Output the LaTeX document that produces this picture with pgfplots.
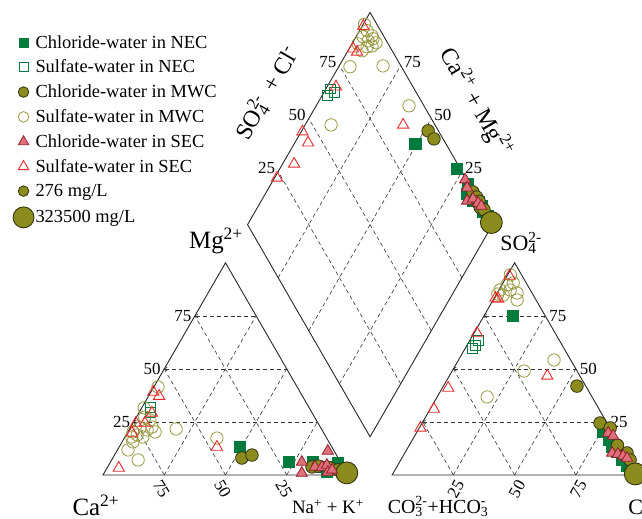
\documentclass[border=0pt]{standalone}
\usepackage{fontspec}
\setmainfont{Liberation Serif}
\usepackage{pgfplots}
\usepackage{pgfplotstable}
\usetikzlibrary{arrows.meta}
\pgfplotsset{compat=1.18}

\definecolor{necgreen}{RGB}{0,122,61}
\definecolor{olivefill}{RGB}{140,140,30}
\definecolor{oliveedge}{RGB}{50,50,15}
\definecolor{oliveopen}{RGB}{150,150,60}
\definecolor{pinkfill}{RGB}{222,112,122}
\definecolor{pinkedge}{RGB}{150,30,45}
\definecolor{redopen}{RGB}{232,40,40}

\newcommand{\ionsb}[2]{\makebox[0pt][l]{\textsubscript{#1}}\textsuperscript{#2}}
\newcommand{\legfont}{\fontsize{18.5}{20}\selectfont}
\newcommand{\tickfont}{\fontsize{17}{17}\selectfont}

% ---------- cation triangle: Na+K %, Mg %
\pgfplotstableread{
NaK Mg
49.3 13.2
72.8 6.1
82.6 6.1
87.5 3.8
90.7 1.4
92.8 3.8
93.1 5.7
}\cNECc
\pgfplotstableread{
NaK Mg
3.2 32.0
4.5 29.5
}\cNECs
\pgfplotstableread{
NaK Mg
52.7 8.0
56.1 9.4
83.4 3.8
85.7 4.2
91.1 3.3
94.7 2.4
}\cMWCc
\pgfplotstableread{
NaK Mg
1.7 41.5
1.0 31.6
3.4 27.3
6.2 25.9
4.0 22.2
2.1 20.3
2.8 17.9
4.5 18.9
7.4 21.2
8.7 22.6
11.1 20.3
7.3 17.9
4.4 15.6
4.3 11.8
10.8 7.1
19.0 21.7
37.8 17.4
}\cMWCs
\pgfplotstableread{
NaK Mg
86.1 11.3
78.1 6.1
80.7 0.9
84.6 3.8
87.5 3.8
89.0 4.7
91.1 1.4
92.3 2.4
}\cSECc
\pgfplotstableread{
NaK Mg
1.0 39.1
4.3 37.2
5.4 29.2
1.2 24.5
4.8 24.5
1.9 19.8
4.8 3.3
39.9 13.2
}\cSECs
\pgfplotstableread{
NaK Mg
99.0 1.0
}\cBig

% ---------- anion triangle: Cl %, SO4 %
\pgfplotstableread{
Cl SO4
11.9 74.9
76.0 20.3
80.0 16.5
83.2 13.2
86.4 10.8
90.0 7.1
93.8 4.2
98.0 0.5
}\aNECc
\pgfplotstableread{
Cl SO4
3.3 63.6
3.3 61.3
2.8 59.9
}\aNECs
\pgfplotstableread{
Cl SO4
54.5 41.9
72.6 24.5
77.9 22.2
85.0 14.0
90.7 10.4
93.6 7.1
}\aMWCc
\pgfplotstableread{
Cl SO4
1.1 94.3
4.2 90.5
2.1 89.6
0.5 87.2
0.5 85.3
8.1 85.8
9.8 82.5
2.9 84.8
4.6 87.2
39.0 54.2
29.4 49.0
20.4 36.8
}\aMWCs
\pgfplotstableread{
Cl SO4
78.3 19.8
81.0 18.4
84.6 10.4
87.2 9.9
89.8 9.0
91.9 8.0
}\aSECc
\pgfplotstableread{
Cl SO4
1.0 93.8
0.5 83.4
1.8 83.0
1.2 66.9
40.0 46.7
2.4 41.0
1.5 31.1
0.5 22.2
}\aSECs
\pgfplotstableread{
Cl SO4
99.0 0.5
}\aBig

% ---------- diamond: SO4+Cl %, Ca+Mg %
\pgfplotstableread{
SCl CaMg
87.4 50.6
98.7 27.7
99.5 19.6
96.9 17.7
97.6 13.6
100 11
100 9
99 7
100 4
}\dNECc
\pgfplotstableread{
SCl CaMg
65.7 98.3
66.4 95.8
62.8 98.0
}\dNECs
\pgfplotstableread{
SCl CaMg
95.8 48.4
96.3 44.1
99.7 15.7
100 13
100 11
99 9
100 7
}\dMWCc
\pgfplotstableread{
SCl CaMg
94.9 99.5
94.5 96.9
95.3 93.7
95.0 92.6
91.4 97.1
92.5 94.1
87.7 97.5
90.7 93.1
87.7 94.2
92.9 91.3
95.3 90.4
79.0 95.4
92.7 82.1
93.9 62.1
57.6 89.4
}\dMWCs
\pgfplotstableread{
SCl CaMg
99.4 21.8
98.3 19.1
95.2 16.0
98.1 14.1
99.2 11.0
99.8 9.0
}\dSECc
\pgfplotstableread{
SCl CaMg
94.0 99.5
84.5 98.4
85.4 96.0
68.6 96.4
87.0 60.0
44.3 99.5
44.0 94.6
33.3 95.3
23.0 99.0
}\dSECs
\pgfplotstableread{
SCl CaMg
100 1
}\dBig

\pgfplotsset{
  /pgfplots/table/cation/.style={x expr=\thisrow{NaK}+0.5*\thisrow{Mg}, y expr=0.866025*\thisrow{Mg}},
  /pgfplots/table/anion/.style={x expr=118+\thisrow{Cl}+0.5*\thisrow{SO4}, y expr=0.866025*\thisrow{SO4}},
  /pgfplots/table/diamond/.style={x expr=109+0.5*\thisrow{SCl}-0.5*\thisrow{CaMg}, y expr=15.588+0.866025*(\thisrow{SCl}+\thisrow{CaMg})},
  necC/.style={only marks, mark=square*, mark size=5.6pt, mark options={fill=necgreen, draw=necgreen, line width=0.4pt}},
  necS/.style={only marks, mark=square, mark size=5pt, mark options={draw=necgreen, line width=0.7pt}},
  mwcC/.style={only marks, mark=*, mark size=6.3pt, mark options={fill=olivefill, draw=oliveedge, line width=0.8pt}},
  mwcS/.style={only marks, mark=o, mark size=6.2pt, mark options={draw=oliveopen, line width=0.8pt}},
  secC/.style={only marks, mark=triangle*, mark size=6.5pt, mark options={fill=pinkfill, draw=pinkedge, line width=0.8pt}},
  secS/.style={only marks, mark=triangle, mark size=6.5pt, mark options={draw=redopen, line width=0.9pt}},
  bigC/.style={only marks, mark=*, mark size=11pt, mark options={fill=olivefill, draw=oliveedge, line width=0.9pt}},
  smallC/.style={only marks, mark=*, mark size=5.3pt, mark options={fill=olivefill, draw=oliveedge, line width=0.8pt}},
}
\tikzset{
  frame/.style={line width=0.9pt, black!85},
  gridd/.style={line width=0.6pt, black!80, dash pattern=on 4pt off 3pt},
  tipl/.style={{Straight Barb[length=2.5pt,width=4pt]}-},
}

\begin{document}
\begin{tikzpicture}
\begin{axis}[
  scale only axis, width=642bp, height=519bp,
  xmin=-42.04, xmax=220.0, ymin=-17.96, ymax=193.88,
  axis lines=none, clip=false,
  legend cell align=left,
  legend style={at={(axis cs:-38,181)}, anchor=north west, draw=none, fill=none,
    font=\legfont, row sep=7.5pt, nodes={inner sep=1.5pt},
    /tikz/every even column/.append style={column sep=2pt}},
]
% legend
\addlegendimage{necC, mark size=4.6pt}\addlegendentry{Chloride-water in NEC}
\addlegendimage{necS, mark size=4.6pt}\addlegendentry{Sulfate-water in NEC}
\addlegendimage{mwcC, mark size=5.3pt}\addlegendentry{Chloride-water in MWC}
\addlegendimage{mwcS, mark size=5.3pt}\addlegendentry{Sulfate-water in MWC}
\addlegendimage{secC, mark size=6pt}\addlegendentry{Chloride-water in SEC}
\addlegendimage{secS, mark size=6pt}\addlegendentry{Sulfate-water in SEC}
\addlegendimage{smallC}\addlegendentry{276 mg/L}
\addlegendimage{bigC, mark size=10.5pt}\addlegendentry{323500 mg/L}

% grids
\pgfplotsinvokeforeach{25,50,75}{
  \draw[gridd, tipl] ({#1/2},{0.866025*#1}) -- ({100-#1/2},{0.866025*#1});
  \draw[gridd] (#1,0) -- ({50+#1/2},{0.866025*(100-#1)});
  \draw[gridd] ({100-#1},0) -- ({(100-#1)/2},{0.866025*(100-#1)});
  \draw[gridd, tipl] ({118+#1/2},{0.866025*#1}) -- ({218-#1/2},{0.866025*#1});
  \draw[gridd] ({118+#1},0) -- ({168+#1/2},{0.866025*(100-#1)});
  \draw[gridd] ({218-#1},0) -- ({118+(100-#1)/2},{0.866025*(100-#1)});
  \draw[gridd] ({109+0.5*#1},{15.588+0.866025*#1}) -- ({59+0.5*#1},{102.191+0.866025*#1});
  \draw[gridd] ({109-0.5*#1},{15.588+0.866025*#1}) -- ({159-0.5*#1},{102.191+0.866025*#1});
  % tick labels
  \node[font=\tickfont, anchor=east, inner sep=1pt] at ({#1/2-1},{0.866025*#1}) {#1};
  \node[font=\tickfont, rotate=-60] at ({100-#1-1.2},-5.6) {#1};
  \node[font=\tickfont, anchor=west, inner sep=1pt] at ({218-#1/2+1.2},{0.866025*#1}) {#1};
  \node[font=\tickfont, rotate=60] at ({118+#1+1},-5.8) {#1};
  \node[font=\tickfont, anchor=east, inner sep=1pt] at ({59+0.5*#1-0.8},{102.191+0.866025*#1+1.5}) {#1};
  \node[font=\tickfont, anchor=west, inner sep=1pt] at ({159-0.5*#1+0.8},{102.191+0.866025*#1+1.5}) {#1};
}
% frames
\draw[frame] (0,0) -- (100,0) -- (50,86.603) -- cycle;
\draw[frame] (118,0) -- (218,0) -- (168,86.603) -- cycle;
\draw[frame] (109,15.588) -- (159,102.191) -- (109,188.794) -- (59,102.191) -- cycle;

% data: cation triangle
\addplot[necS, forget plot] table[cation] {\cNECs};
\addplot[mwcS, forget plot] table[cation] {\cMWCs};
\addplot[secS, forget plot] table[cation] {\cSECs};
\addplot[necC, forget plot] table[cation] {\cNECc};
\addplot[mwcC, forget plot] table[cation] {\cMWCc};
\addplot[bigC, forget plot] table[cation] {\cBig};
\addplot[secC, forget plot] table[cation] {\cSECc};
% anion triangle
\addplot[necS, forget plot] table[anion] {\aNECs};
\addplot[mwcS, forget plot] table[anion] {\aMWCs};
\addplot[secS, forget plot] table[anion] {\aSECs};
\addplot[necC, forget plot] table[anion] {\aNECc};
\addplot[mwcC, forget plot] table[anion] {\aMWCc};
\addplot[bigC, forget plot] table[anion] {\aBig};
\addplot[secC, forget plot] table[anion] {\aSECc};
% diamond
\addplot[necS, forget plot] table[diamond] {\dNECs};
\addplot[mwcS, forget plot] table[diamond] {\dMWCs};
\addplot[secS, forget plot] table[diamond] {\dSECs};
\addplot[necC, forget plot] table[diamond] {\dNECc};
\addplot[mwcC, forget plot] table[diamond] {\dMWCc};
\addplot[bigC, forget plot] table[diamond] {\dBig};
\addplot[secC, forget plot] table[diamond] {\dSECc};

% axis labels
\node[font=\fontsize{25}{25}\selectfont] at (46.1,95.5) {Mg\textsuperscript{2+}};
\node[font=\fontsize{22}{22}\selectfont] at (170.6,94.7) {SO\ionsb{4}{2-}};
\node[font=\fontsize{25}{25}\selectfont] at (-2.9,-12.4) {Ca\textsuperscript{2+}};
\node[font=\fontsize{19}{19}\selectfont] at (91.8,-13.1) {Na\textsuperscript{+} + K\textsuperscript{+}};
\node[font=\fontsize{20}{20}\selectfont] at (136.3,-12.9) {CO\ionsb{3}{2-}+HCO\ionsb{3}{-}};
\node[font=\fontsize{22}{22}\selectfont, anchor=west] at (213,-13) {Cl\textsuperscript{-}};
\node[font=\fontsize{24}{24}\selectfont, rotate=60] at (66.9,156.0) {SO\ionsb{4}{2-}\, + Cl\textsuperscript{-}};
\node[font=\fontsize{24}{24}\selectfont, rotate=-60] at (152.3,152.0) {Ca\textsuperscript{2+} + Mg\textsuperscript{2+}};
\end{axis}
\pgfresetboundingbox
\path (current axis.south west) rectangle (current axis.north east);
\end{tikzpicture}
\end{document}
